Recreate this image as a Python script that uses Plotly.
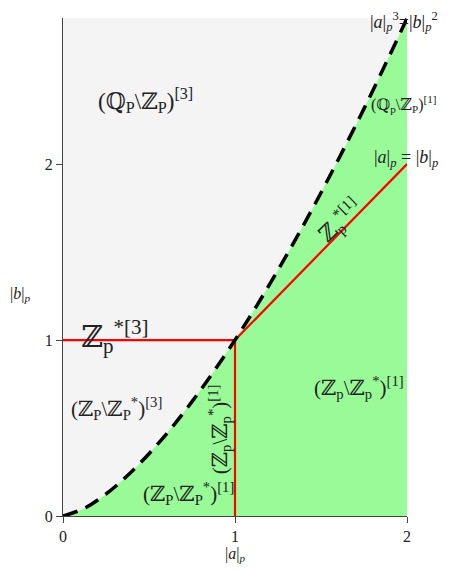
import plotly.graph_objects as go

# boundary curve |a|^3 = |b|^2
curve_x = [0, 0.125, 0.25, 0.375, 0.5, 0.625, 0.75, 0.875, 1.0,
           1.125, 1.25, 1.375, 1.5, 1.625, 1.75, 1.875, 2.0]
curve_y = [0, 0.044, 0.125, 0.230, 0.354, 0.494, 0.650, 0.819, 1.0,
           1.193, 1.398, 1.612, 1.837, 2.072, 2.315, 2.568, 2.828]

# red separating segments
horiz_x = [0, 1]
horiz_y = [1, 1]
vert_x = [1, 1]
vert_y = [0, 1]
diag_x = [1, 2]
diag_y = [1, 2]

ticks = [0, 1, 2]
tick_labels = ["0", "1", "2"]

X_MAX = 2.0
Y_MAX = 2.83

SERIF = "Liberation Serif, Times New Roman, DejaVu Serif, serif"

fig = go.Figure()

# green region under the curve
fig.add_trace(go.Scatter(
    x=curve_x, y=curve_y, mode="lines", line=dict(width=0, shape="spline"),
    fill="tozeroy", fillcolor="#98fb98", hoverinfo="skip", showlegend=False
))

for xs, ys in [(horiz_x, horiz_y), (vert_x, vert_y), (diag_x, diag_y)]:
    fig.add_trace(go.Scatter(
        x=xs, y=ys, mode="lines", line=dict(color="red", width=2.2),
        showlegend=False
    ))

# dashed boundary
fig.add_trace(go.Scatter(
    x=curve_x, y=curve_y, mode="lines",
    line=dict(color="black", width=3.5, dash="15px,9px", shape="spline"),
    showlegend=False
))

# region labels, positioned in data units but placed with paper refs so
# labels past the axis range still show
labels = [
    (0.48, 2.36, "(ℚ<sub>P</sub>\\ℤ<sub>P</sub>)<sup>[3]</sup>", 23, 0),
    (1.985, 2.34, "(ℚ<sub>p</sub>\\ℤ<sub>P</sub>)<sup>[1]</sup>", 16, 0),
    (1.985, 2.81, "|<i>a</i>|<sub><i>p</i></sub><sup>3</sup>=|<i>b</i>|<sub><i>p</i></sub><sup>2</sup>", 18, 0),
    (1.995, 2.03, "|<i>a</i>|<sub><i>p</i></sub> = |<i>b</i>|<sub><i>p</i></sub>", 18, 0),
    (0.30, 1.02, "ℤ<sub>p</sub><sup>*[3]</sup>", 30, 0),
    (0.31, 0.61, "(ℤ<sub>P</sub>\\ℤ<sub>P</sub><sup>*</sup>)<sup>[3]</sup>", 21, 0),
    (0.73, 0.13, "(ℤ<sub>P</sub>\\ℤ<sub>P</sub><sup>*</sup>)<sup>[1]</sup>", 21, 0),
    (0.91, 0.49, "(ℤ<sub>p</sub>\\ℤ<sub>p</sub><sup>*</sup>)<sup>[1]</sup>", 21, -90),
    (1.72, 0.73, "(ℤ<sub>p</sub>\\ℤ<sub>p</sub><sup>*</sup>)<sup>[1]</sup>", 21, 0),
    (1.61, 1.68, "ℤ<sub>p</sub><sup>*[1]</sup>", 22, -44),
]
for x, y, txt, size, ang in labels:
    fig.add_annotation(x=x / X_MAX, y=y / Y_MAX, xref="paper", yref="paper",
                       xanchor="center", yanchor="middle",
                       text=txt, showarrow=False, textangle=ang,
                       font=dict(family=SERIF, size=size, color="#222"))

# axis titles
fig.add_annotation(x=0.5, y=-0.078, xref="paper", yref="paper",
                   xanchor="center", yanchor="middle",
                   text="|<i>a</i>|<sub><i>p</i></sub>", showarrow=False,
                   font=dict(family=SERIF, size=16, color="#222"))
fig.add_annotation(x=-0.125, y=0.444, xref="paper", yref="paper",
                   xanchor="center", yanchor="middle",
                   text="|<i>b</i>|<sub><i>p</i></sub>", showarrow=False,
                   font=dict(family=SERIF, size=16, color="#222"))

fig.update_layout(
    width=450, height=570,
    margin=dict(l=55, r=51, t=10, b=62),
    paper_bgcolor="white", plot_bgcolor="#f4f4f4",
    font=dict(family=SERIF, size=16, color="#222"),
    xaxis=dict(range=[0, X_MAX], tickvals=ticks, ticktext=tick_labels, showgrid=False,
               zeroline=False, showline=True, linecolor="#444", linewidth=1.2,
               ticks="outside", ticklen=6, tickcolor="#444"),
    yaxis=dict(range=[0, Y_MAX], tickvals=ticks, ticktext=tick_labels, showgrid=False,
               zeroline=False, showline=True, linecolor="#444", linewidth=1.2,
               ticks="outside", ticklen=6, tickcolor="#444"),
)

fig.write_html("out.html")
